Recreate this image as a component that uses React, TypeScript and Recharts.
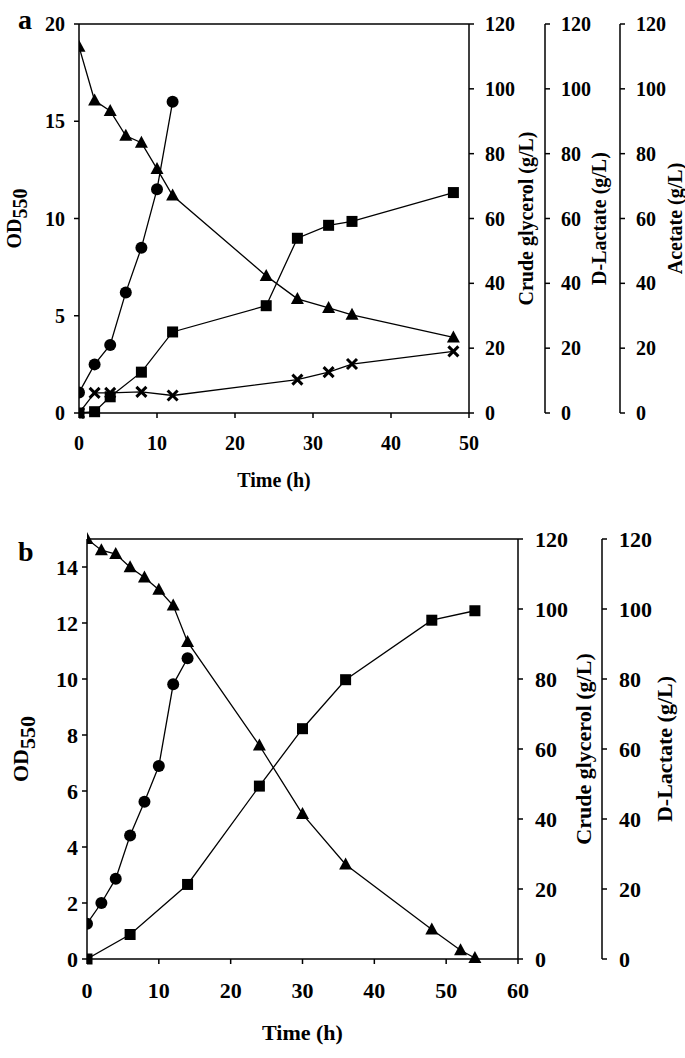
import { LineChart, Line, XAxis, YAxis, ReferenceLine } from "recharts";

// panel a: time points (h) and values
const hoursA_od = [0, 2, 4, 6, 8, 10, 12];
const odA = [1.05, 2.5, 3.5, 6.2, 8.5, 11.5, 16.0];
const hoursA_gly = [0, 2, 4, 6, 8, 10, 12, 24, 28, 32, 35, 48];
const glyA = [113, 96.4, 93.2, 85.5, 83.4, 75.3, 67.1, 42.3, 35.2, 32.4, 30.3, 23.3];
const hoursA_lac = [0, 2, 4, 8, 12, 24, 28, 32, 35, 48];
const lacA = [0, 0.4, 5.0, 12.6, 25.0, 33.1, 53.9, 57.9, 59.1, 68.0];
const hoursA_ace = [0, 2, 4, 8, 12, 28, 32, 35, 48];
const aceA = [0, 6.2, 6.2, 6.5, 5.4, 10.3, 12.6, 15.1, 19.0];

// panel b
const hoursB_od = [0, 2, 4, 6, 8, 10, 12, 14];
const odB = [1.26, 2.0, 2.87, 4.41, 5.62, 6.89, 9.81, 10.74];
const hoursB_gly = [0, 2, 4, 6, 8, 10, 12, 14, 24, 30, 36, 48, 52, 54];
const glyB = [120, 116.8, 115.7, 111.9, 109, 105.5, 101, 90.6, 61, 41.4, 27, 8.4, 2.5, 0.3];
const hoursB_lac = [0, 6, 14, 24, 30, 36, 48, 54];
const lacB = [0, 7.0, 21.3, 49.4, 65.8, 79.8, 96.8, 99.5];

const ticksA_x = [0, 10, 20, 30, 40, 50];
const ticksA_od = [0, 5, 10, 15, 20];
const ticksB_x = [0, 10, 20, 30, 40, 50, 60];
const ticksB_od = [0, 2, 4, 6, 8, 10, 12, 14];
const ticksConc = [0, 20, 40, 60, 80, 100, 120];

const toRows = (t: number[], v: number[]) => t.map((h, i) => ({ t: h, v: v[i] }));

const INK = "#000";

const circle = (props: any) => {
  const { cx, cy, index } = props;
  if (cx == null || cy == null) return <g key={index} />;
  return <circle key={index} cx={cx} cy={cy} r={6} fill={INK} />;
};

const square = (props: any) => {
  const { cx, cy, index } = props;
  if (cx == null || cy == null) return <g key={index} />;
  return <rect key={index} x={cx - 5.5} y={cy - 5.5} width={11} height={11} fill={INK} />;
};

const triangle = (props: any) => {
  const { cx, cy, index } = props;
  if (cx == null || cy == null) return <g key={index} />;
  const d = `M${cx},${cy - 7} L${cx + 6.5},${cy + 5} L${cx - 6.5},${cy + 5} Z`;
  return <path key={index} d={d} fill={INK} />;
};

const cross = (props: any) => {
  const { cx, cy, index } = props;
  if (cx == null || cy == null) return <g key={index} />;
  const s = 5;
  return (
    <path
      key={index}
      d={`M${cx - s},${cy - s} L${cx + s},${cy + s} M${cx - s},${cy + s} L${cx + s},${cy - s}`}
      stroke={INK}
      strokeWidth={3}
    />
  );
};

// rotated axis title; x is fixed in chart pixels, y centred on the axis box
const vTitle = (text: string, x: number, size: number, sub?: string) => (props: any) => {
  const vb = props.viewBox || {};
  const y = vb.y + vb.height / 2;
  return (
    <text
      x={x}
      y={y}
      transform={`rotate(-90, ${x}, ${y})`}
      textAnchor="middle"
      dominantBaseline="central"
      fontSize={size}
      fontWeight="bold"
      fill={INK}
    >
      {text}
      {sub && (
        <tspan dy="0.3em" fontSize={size}>
          {sub}
        </tspan>
      )}
    </text>
  );
};

const hTitle = (text: string, dy: number, size: number) => (props: any) => {
  const vb = props.viewBox || {};
  return (
    <text
      x={vb.x + vb.width / 2}
      y={vb.y + dy}
      textAnchor="middle"
      dominantBaseline="central"
      fontSize={size}
      fontWeight="bold"
      fill={INK}
    >
      {text}
    </text>
  );
};

const axisLine = { stroke: INK, strokeWidth: 1.5 };
const tickLine = { stroke: INK, strokeWidth: 1.5 };
const lineProps = { stroke: INK, strokeWidth: 1.3, isAnimationActive: false, activeDot: false as const, type: "linear" as const };

// right axes are ordered by id: r1 next to the plot, r3 outermost
function PanelA() {
  const tick = { fill: INK, fontSize: 20, fontWeight: "bold" };
  return (
    <LineChart width={685} height={505} margin={{ top: 24, right: 0, left: 0, bottom: 0 }}>
      <XAxis
        type="number"
        dataKey="t"
        domain={[0, 50]}
        ticks={ticksA_x}
        height={92}
        tickSize={5}
        tickMargin={18}
        axisLine={axisLine}
        tickLine={tickLine}
        tick={tick}
        allowDataOverflow
        label={{ content: hTitle("Time (h)", 67, 20) }}
      />
      <YAxis
        yAxisId="od"
        orientation="left"
        width={79}
        domain={[0, 20]}
        ticks={ticksA_od}
        tickSize={5}
        tickMargin={9}
        axisLine={axisLine}
        tickLine={tickLine}
        tick={tick}
        label={{ content: vTitle("OD", 14, 20, "550") }}
      />
      <YAxis
        yAxisId="r1"
        orientation="right"
        width={76}
        domain={[0, 120]}
        ticks={ticksConc}
        tickSize={5}
        tickMargin={11}
        axisLine={axisLine}
        tickLine={tickLine}
        tick={tick}
        label={{ content: vTitle("Crude glycerol (g/L)", 526, 20) }}
      />
      <YAxis
        yAxisId="r2"
        orientation="right"
        width={75}
        domain={[0, 120]}
        ticks={ticksConc}
        tickSize={5}
        tickMargin={11}
        axisLine={axisLine}
        tickLine={tickLine}
        tick={tick}
        label={{ content: vTitle("D-Lactate (g/L)", 599, 20) }}
      />
      <YAxis
        yAxisId="r3"
        orientation="right"
        width={65}
        domain={[0, 120]}
        ticks={ticksConc}
        tickSize={5}
        tickMargin={11}
        axisLine={axisLine}
        tickLine={tickLine}
        tick={tick}
        label={{ content: vTitle("Acetate (g/L)", 675, 20) }}
      />
      <ReferenceLine yAxisId="od" y={20} stroke={INK} strokeWidth={1.5} />
      <Line {...lineProps} yAxisId="r2" data={toRows(hoursA_lac, lacA)} dataKey="v" dot={square} />
      <Line {...lineProps} yAxisId="r3" data={toRows(hoursA_ace, aceA)} dataKey="v" dot={cross} />
      <Line {...lineProps} yAxisId="r1" data={toRows(hoursA_gly, glyA)} dataKey="v" dot={triangle} />
      <Line {...lineProps} yAxisId="od" data={toRows(hoursA_od, odA)} dataKey="v" dot={circle} />
    </LineChart>
  );
}

function PanelB() {
  const tick = { fill: INK, fontSize: 22, fontWeight: "bold" };
  return (
    <LineChart width={685} height={553} margin={{ top: 34, right: 0, left: 0, bottom: 0 }}>
      <XAxis
        type="number"
        dataKey="t"
        domain={[0, 60]}
        ticks={ticksB_x}
        height={99}
        tickSize={5}
        tickMargin={18}
        axisLine={axisLine}
        tickLine={tickLine}
        tick={tick}
        allowDataOverflow
        label={{ content: hTitle("Time (h)", 73, 22) }}
      />
      <YAxis
        yAxisId="od"
        orientation="left"
        width={87}
        domain={[0, 15]}
        ticks={ticksB_od}
        tickSize={5}
        tickMargin={4}
        axisLine={axisLine}
        tickLine={tickLine}
        tick={tick}
        label={{ content: vTitle("OD", 20, 22, "550") }}
      />
      <YAxis
        yAxisId="r1"
        orientation="right"
        width={84}
        domain={[0, 120]}
        ticks={ticksConc}
        tickSize={5}
        tickMargin={12}
        axisLine={axisLine}
        tickLine={tickLine}
        tick={tick}
        label={{ content: vTitle("Crude glycerol (g/L)", 583, 22) }}
      />
      <YAxis
        yAxisId="r2"
        orientation="right"
        width={83}
        domain={[0, 120]}
        ticks={ticksConc}
        tickSize={5}
        tickMargin={12}
        axisLine={axisLine}
        tickLine={tickLine}
        tick={tick}
        label={{ content: vTitle("D-Lactate (g/L)", 664, 22) }}
      />
      <ReferenceLine yAxisId="od" y={15} stroke={INK} strokeWidth={1.5} />
      <Line {...lineProps} yAxisId="r2" data={toRows(hoursB_lac, lacB)} dataKey="v" dot={square} />
      <Line {...lineProps} yAxisId="r1" data={toRows(hoursB_gly, glyB)} dataKey="v" dot={triangle} />
      <Line {...lineProps} yAxisId="od" data={toRows(hoursB_od, odB)} dataKey="v" dot={circle} />
    </LineChart>
  );
}

export default function App() {
  return (
    <div
      style={{
        position: "absolute",
        left: 0,
        top: 0,
        width: 685,
        height: 1058,
        background: "#fff",
        fontFamily: "'Liberation Serif', 'Times New Roman', serif",
        fontWeight: "bold",
      }}
    >
      <div style={{ position: "absolute", left: 18, top: 4, fontSize: 28, lineHeight: "32px" }}>a</div>
      <div style={{ position: "absolute", left: 0, top: 0 }}>
        <PanelA />
      </div>
      <div style={{ position: "absolute", left: 18, top: 536, fontSize: 28, lineHeight: "32px" }}>b</div>
      <div style={{ position: "absolute", left: 0, top: 505 }}>
        <PanelB />
      </div>
    </div>
  );
}
